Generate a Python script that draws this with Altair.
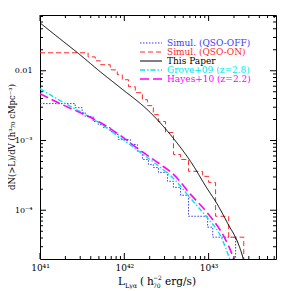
import altair as alt
import pandas as pd

# ---------------- data ----------------
# Simul. (QSO-OFF): step histogram, left edges (erg/s) and cumulative number density
qso_off_L = [1e41, 2.61e41, 3.16e41, 3.43e41, 4.27e41, 4.90e41, 5.62e41, 6.81e41, 7.81e41, 8.49e41,
             1.18e42, 1.43e42, 1.64e42, 1.93e42, 2.21e42, 2.54e42, 3.25e42, 3.83e42, 4.65e42, 5.78e42,
             9.73e42, 1.12e43, 2.09e43]
qso_off_n = [0.00338, 0.00296, 0.00251, 0.00220, 0.00187, 0.00169, 0.00153, 0.00134, 0.00122, 0.00103,
             0.000877, 0.000697, 0.000535, 0.000454, 0.000411, 0.000349, 0.000260, 0.000213, 0.000164, 8.2e-5,
             5.72e-5, 4.11e-5, 1e-5]

# Simul. (QSO-ON)
qso_on_L = [1e41, 3.72e41, 4.52e41, 5.18e41, 6.81e41, 8.26e41, 9.46e41, 1.12e42, 1.35e42, 1.64e42,
            1.88e42, 2.21e42, 2.54e42, 3.08e42, 3.83e42, 4.65e42, 5.78e42, 8.49e42, 1.0e43, 1.21e43,
            1.73e43, 2.61e43]
qso_on_n = [0.0181, 0.0158, 0.0139, 0.0122, 0.0103, 0.00877, 0.00744, 0.00591, 0.00485, 0.00385,
            0.00316, 0.00235, 0.00187, 0.00130, 0.000631, 0.000535, 0.000361, 0.000306, 0.000251, 8.2e-5,
            4.11e-5, 1e-5]

# This Paper
paper_L = [1e41, 1.73e41, 2.99e41, 5.18e41, 8.96e41, 2.04e42, 3.83e42, 6.11e42, 9.73e42, 1.21e43,
           1.73e43, 2.21e43, 2.54e43, 2.68e43]
paper_n = [0.0485, 0.0286, 0.0169, 0.00968, 0.00572, 0.00251, 0.00107, 0.000501, 0.000200, 0.000134,
           6.1e-5, 3.49e-5, 2.13e-5, 1.64e-5]

# Grove+09 (z=2.8)
grove_L = [1e41, 1.73e41, 2.99e41, 5.18e41, 8.96e41, 1.55e42, 2.68e42, 3.83e42, 6.11e42, 9.73e42,
           1.39e43, 1.73e43, 1.88e43]
grove_n = [0.00553, 0.00373, 0.00260, 0.00175, 0.00110, 0.000674, 0.000411, 0.000286, 0.000148, 7.69e-5,
           4.25e-5, 2.2e-5, 1.64e-5]

# Hayes+10 (z=2.2)
hayes_L = [1e41, 1.73e41, 2.99e41, 5.18e41, 8.96e41, 1.55e42, 2.68e42, 3.83e42, 6.11e42, 9.73e42,
           1.51e43, 1.93e43, 2.09e43]
hayes_n = [0.00469, 0.00338, 0.00251, 0.00181, 0.00118, 0.000720, 0.000454, 0.000327, 0.000169, 9.06e-5,
           4.25e-5, 2.2e-5, 1.64e-5]

legend_labels = ["Simul. (QSO-OFF)", "Simul. (QSO-ON)", "This Paper",
                 "Grove+09 (z=2.8)", "Hayes+10 (z=2.2)"]

xtick_vals = [1e41, 1e42, 1e43]
xtick_labels = ["10\u2074\u00b9", "10\u2074\u00b2", "10\u2074\u00b3"]
ytick_vals = [1e-4, 1e-3, 1e-2]
ytick_labels = ["10\u207b\u2074", "10\u207b\u00b3", "0.01"]

x_domain = [1e41, 6.3e43]
y_domain = [2e-5, 0.063]

x_minor = [k * 10.0 ** e for e in (41, 42, 43) for k in range(2, 10)
           if x_domain[0] < k * 10.0 ** e < x_domain[1]]
y_minor = [k * 10.0 ** e for e in (-5, -4, -3, -2) for k in range(2, 10)
           if y_domain[0] < k * 10.0 ** e < y_domain[1]]

# ---------------- styling ----------------
W, H = 236, 244
SERIF = "DejaVu Serif"

BLUE, RED, BLACK, CYAN, MAGENTA = "#3a3aff", "#ff2a2a", "#000000", "#00e8e8", "#ff00ff"
styles = [
    (BLUE, [1.5, 1.5], 1.0),
    (RED, [5, 3], 1.0),
    (BLACK, [1, 0], 1.0),
    (CYAN, [5, 2, 1.5, 2], 1.4),
    (MAGENTA, [9, 4], 1.6),
]


def make_expr(vals, labels):
    expr = "''"
    for v, lab in zip(vals, labels):
        expr = f"abs(datum.value - {v!r})/{v!r} < 0.01 ? '{lab}' : " + expr
    return expr


xscale = alt.Scale(type="log", domain=x_domain, nice=False)
yscale = alt.Scale(type="log", domain=y_domain, nice=False)

xaxis = alt.Axis(values=xtick_vals, labelExpr=make_expr(xtick_vals, xtick_labels), ticks=False,
                 domain=False, grid=False, title=None, labelFont=SERIF, labelFontSize=9,
                 labelColor="black", labelPadding=4, labelFlush=False)
yaxis = alt.Axis(values=ytick_vals, labelExpr=make_expr(ytick_vals, ytick_labels), ticks=False,
                 domain=False, grid=False, title=None, labelFont=SERIF, labelFontSize=8,
                 labelColor="black", labelPadding=8)

one = pd.DataFrame({"k": [0]})


def series_layer(L, n, style, step):
    color, dash, width = style
    df = pd.DataFrame({"L": L, "n": n})
    return alt.Chart(df).mark_line(
        interpolate="step-after" if step else "monotone",
        color=color, strokeDash=dash, strokeWidth=width, clip=True
    ).encode(
        x=alt.X("L:Q", scale=xscale, axis=xaxis),
        y=alt.Y("n:Q", scale=yscale, axis=yaxis),
    )


layers = [
    series_layer(qso_off_L, qso_off_n, styles[0], True),
    series_layer(qso_on_L, qso_on_n, styles[1], True),
    series_layer(grove_L, grove_n, styles[3], False),
    series_layer(hayes_L, hayes_n, styles[4], False),
    series_layer(paper_L, paper_n, styles[2], False),
]

# inward ticks on all four sides
for vals, ln in ((xtick_vals, 6), (x_minor, 3)):
    d = pd.DataFrame({"L": vals})
    xe = alt.X("L:Q", scale=xscale, axis=xaxis)
    layers.append(alt.Chart(d).mark_rule(color="black", strokeWidth=1).encode(
        x=xe, y=alt.value(H), y2=alt.value(H - ln)))
    layers.append(alt.Chart(d).mark_rule(color="black", strokeWidth=1).encode(
        x=xe, y=alt.value(0), y2=alt.value(ln)))
for vals, ln in ((ytick_vals, 6), (y_minor, 3)):
    d = pd.DataFrame({"n": vals})
    ye = alt.Y("n:Q", scale=yscale, axis=yaxis)
    layers.append(alt.Chart(d).mark_rule(color="black", strokeWidth=1).encode(
        y=ye, x=alt.value(0), x2=alt.value(ln)))
    layers.append(alt.Chart(d).mark_rule(color="black", strokeWidth=1).encode(
        y=ye, x=alt.value(W), x2=alt.value(W - ln)))

# legend (top right, inside the frame)
leg_y0, leg_dy = 28, 9
for i, (lab, st) in enumerate(zip(legend_labels, styles)):
    color, dash, width = st
    yy = leg_y0 + i * leg_dy
    layers.append(alt.Chart(one).mark_rule(color=color, strokeDash=dash, strokeWidth=width).encode(
        x=alt.value(100), x2=alt.value(122), y=alt.value(yy)))
    layers.append(alt.Chart(one).mark_text(
        color=color, font=SERIF, fontSize=9, align="left", baseline="middle"
    ).encode(x=alt.value(127), y=alt.value(yy), text=alt.value(lab)))


# axis titles as text
def txt(s, x, y, size):
    return alt.Chart(one).mark_text(color="black", font=SERIF, fontSize=size,
                                    baseline="alphabetic", align="left").encode(
        x=alt.value(x), y=alt.value(y), text=alt.value(s))


layers += [
    txt("L", 78, 270, 10.5),
    txt("Ly\u03b1", 85, 273, 6.5),
    txt("(", 100, 270, 10.5),
    txt("h", 107, 270, 10.5),
    txt("\u22122", 113, 265, 6),
    txt("70", 113, 273, 6),
    txt("erg/s)", 125, 270, 10.5),
]
layers.append(alt.Chart(one).mark_text(
    color="black", font=SERIF, fontSize=8.5, angle=270, align="center", baseline="middle"
).encode(x=alt.value(-28), y=alt.value(122),
         text=alt.value("dN(>L)/dV (h\u00b3\u2087\u2080 cMpc\u207b\u00b3)")))

chart = alt.layer(*layers).properties(
    width=W, height=H,
    autosize=alt.AutoSizeParams(type="none"),
    padding={"left": 32, "top": 7, "right": 5, "bottom": 30},
).configure_view(stroke="black", strokeWidth=1)

chart.save("out.html", embed_options={"renderer": "svg", "actions": False})
